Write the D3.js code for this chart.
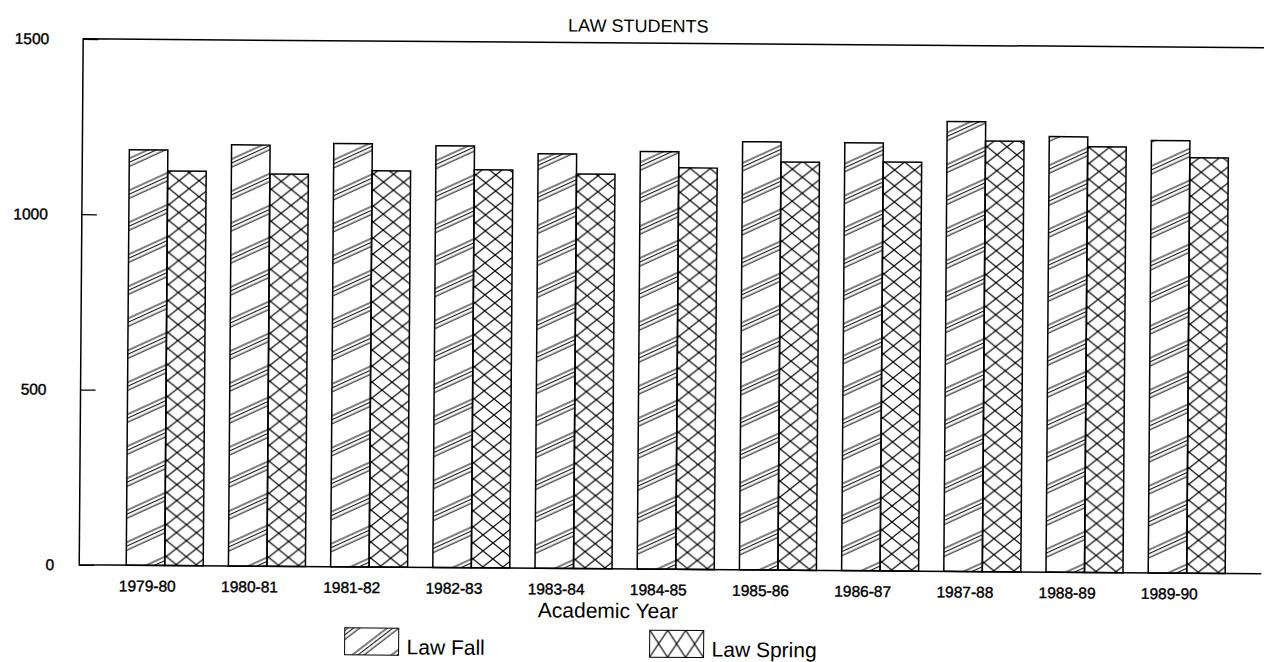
<!DOCTYPE html>
<html>
<head>
<meta charset="utf-8">
<title>Law Students</title>
<style>
  body { margin: 0; background: #fff; }
  text { font-family: "Liberation Sans", Arial, sans-serif; fill: #000; }
</style>
</head>
<body>
<script src="https://d3js.org/d3.v7.min.js"></script>
<svg id="chart" width="1264" height="662"></svg>
<script>

// values
var years = ["1979-80", "1980-81", "1981-82", "1982-83", "1983-84", "1984-85",
             "1985-86", "1986-87", "1987-88", "1988-89", "1989-90"];
var lawFall   = [1185, 1201, 1207, 1203, 1182, 1191, 1221, 1220, 1283, 1242, 1233];
var lawSpring = [1125, 1119, 1130, 1135, 1125, 1145, 1164, 1166, 1228, 1214, 1185];
var seriesNames = ["Law Fall", "Law Spring"];
var yTicks = [0, 500, 1000, 1500];

var svg = d3.select("#chart");

// plot frame (window.top is taken, hence the prefixes)
var plotLeft = 81, plotRight = 1263, plotTop = 43, plotBottom = 569;

// hatch fills
var defs = svg.append("defs");

function hatch(id, angle, period) {
  var p = defs.append("pattern")
    .attr("id", id)
    .attr("patternUnits", "userSpaceOnUse")
    .attr("width", 40).attr("height", period)
    .attr("patternTransform", "rotate(" + angle + ")");
  [2, 5.6, 9.2].forEach(function (v) {
    p.append("line")
      .attr("x1", 0).attr("x2", 40).attr("y1", v).attr("y2", v)
      .attr("stroke", "#000").attr("stroke-width", 1);
  });
}

function crosshatch(id, w, h) {
  defs.append("pattern")
    .attr("id", id)
    .attr("patternUnits", "userSpaceOnUse")
    .attr("width", w).attr("height", h)
    .append("path")
      .attr("d", "M" + -w + "," + -h + "L" + 2 * w + "," + 2 * h +
                 "M" + -w + "," + 2 * h + "L" + 2 * w + "," + -h)
      .attr("fill", "none")
      .attr("stroke", "#000").attr("stroke-width", 1.2);
}

hatch("fallFill", -25, 29);
crosshatch("springFill", 20, 16);
hatch("fallKey", -38, 24);
crosshatch("springKey", 18, 27);

var fills = { "Law Fall": "url(#fallFill)", "Law Spring": "url(#springFill)" };
var keyFills = { "Law Fall": "url(#fallKey)", "Law Spring": "url(#springKey)" };

// the scanned page is tilted a little, so the drawing is too
var g = svg.append("g").attr("transform", "rotate(0.43,632,331)");

// scales
var x = d3.scaleBand()
  .domain(years)
  .range([128, 1227])
  .paddingInner(0.2466)
  .paddingOuter(0);

var xs = d3.scaleBand()
  .domain(seriesNames)
  .range([0, x.bandwidth()]);

var y = d3.scaleLinear()
  .domain([0, 1500])
  .range([plotBottom, plotTop]);

var rows = years.map(function (yr, i) {
  return { year: yr, values: [
    { key: "Law Fall", value: lawFall[i] },
    { key: "Law Spring", value: lawSpring[i] }
  ] };
});

// title
g.append("text")
  .attr("x", 636).attr("y", 32)
  .attr("text-anchor", "middle")
  .style("font-size", "18px")
  .text("LAW STUDENTS");

// bars
g.append("g")
  .selectAll("g")
  .data(rows)
  .enter()
  .append("g")
    .attr("transform", function (d) { return "translate(" + x(d.year) + ",0)"; })
  .selectAll("rect")
  .data(function (d) { return d.values; })
  .enter()
  .append("rect")
    .attr("x", function (d) { return xs(d.key); })
    .attr("y", function (d) { return y(d.value); })
    .attr("width", xs.bandwidth())
    .attr("height", function (d) { return y(0) - y(d.value); })
    .attr("fill", function (d) { return fills[d.key]; })
    .attr("stroke", "#000")
    .attr("stroke-width", 1.5);

// y axis, ticks pointing inward
var yAxis = g.append("g")
  .attr("transform", "translate(" + plotLeft + ",0)")
  .call(d3.axisLeft(y).tickValues(yTicks).tickFormat(d3.format("d"))
    .tickSize(-15).tickPadding(34));
yAxis.select(".domain").remove();
yAxis.selectAll("line").attr("stroke", "#000").attr("stroke-width", 1.3);
yAxis.selectAll("text")
  .attr("dx", function (d) { return d === 0 ? 9 : 0; })
  .attr("stroke", "#000").attr("stroke-width", 0.4)
  .style("font-size", "15.5px")
  .style("font-family", "\"Liberation Sans\", Arial, sans-serif");

// frame: left, top and bottom lines
g.append("path")
  .attr("d", "M" + plotRight + "," + y(1500) + "H" + plotLeft + "V" + y(0) + "H" + plotRight)
  .attr("fill", "none")
  .attr("stroke", "#000")
  .attr("stroke-width", 1.5);

// x axis labels sit under the fall bar
var xAxis = g.append("g")
  .attr("transform", "translate(0," + plotBottom + ")")
  .call(d3.axisBottom(x).tickSize(0).tickPadding(15));
xAxis.select(".domain").remove();
xAxis.selectAll("text")
  .attr("dx", -x.bandwidth() / 4 + 2)
  .attr("stroke", "#000").attr("stroke-width", 0.4)
  .style("font-size", "15.5px")
  .style("font-family", "\"Liberation Sans\", Arial, sans-serif");

g.append("text")
  .attr("x", 610).attr("y", 618)
  .attr("text-anchor", "middle")
  .style("font-size", "21px")
  .text("Academic Year");

// legend
var keyX = [347, 652];
var key = g.append("g")
  .selectAll("g")
  .data(seriesNames)
  .enter()
  .append("g")
    .attr("transform", function (d, i) { return "translate(" + keyX[i] + ",630)"; });

key.append("rect")
  .attr("width", 54).attr("height", 27)
  .attr("fill", function (d) { return keyFills[d]; })
  .attr("stroke", "#000")
  .attr("stroke-width", 1);

key.append("text")
  .attr("x", 62).attr("y", 26)
  .style("font-size", "21px")
  .text(function (d) { return d; });

</script>
</body>
</html>
